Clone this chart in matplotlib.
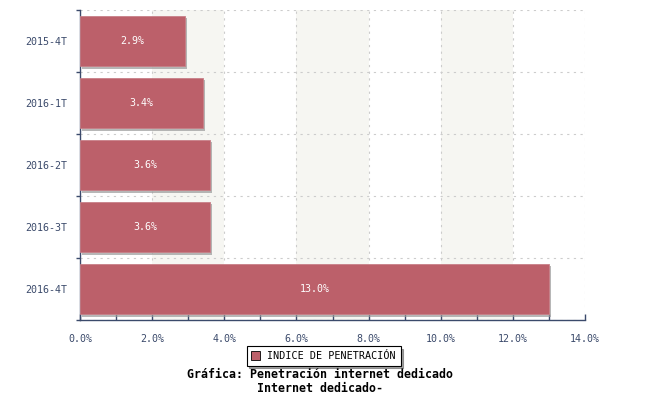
import matplotlib
matplotlib.use("Agg")
import matplotlib.pyplot as plt
import matplotlib.patheffects as pe
from matplotlib.ticker import FuncFormatter, MultipleLocator

# datos
periodos = ["2015-4T", "2016-1T", "2016-2T", "2016-3T", "2016-4T"]
penetracion = [2.9, 3.4, 3.6, 3.6, 13.0]
serie = "INDICE DE PENETRACIÓN"
titulo = ["Gráfica: Penetración internet dedicado", "Internet dedicado-"]

color_barra = "#BC606A"
color_eje = "#3B4A6B"
fuente = "DejaVu Sans Mono"

fig = plt.figure(figsize=(6.5, 4), dpi=100)
ax = fig.add_axes([80 / 650, 80 / 400, 505 / 650, 310 / 400])

# franjas alternas de fondo
for x0 in range(2, 14, 4):
    ax.axvspan(x0, x0 + 2, color="#F6F6F2", zorder=0, lw=0)

pos = list(range(len(periodos)))
barras = ax.barh(pos, penetracion, height=0.82, color=color_barra, zorder=3,
                 label=serie, edgecolor="#C88088", linewidth=0.6)
for b in barras:
    b.set_path_effects([pe.SimplePatchShadow(offset=(1.5, -1.5), shadow_rgbFace="#999999", alpha=0.7),
                        pe.Normal()])
    ax.text(b.get_width() / 2, b.get_y() + b.get_height() / 2, f"{b.get_width():.1f}%",
            ha="center", va="center", color="white", fontsize=7.2, family=fuente, zorder=4)

ax.set_xlim(0, 14)
ax.set_ylim(len(periodos) - 0.5, -0.5)

# eje x
ax.xaxis.set_major_locator(MultipleLocator(2))
ax.xaxis.set_minor_locator(MultipleLocator(1))
ax.xaxis.set_major_formatter(FuncFormatter(lambda v, p: f"{v:.1f}%"))
ax.tick_params(axis="x", which="both", direction="in", length=4, width=1, color=color_eje,
               labelcolor=color_eje, labelsize=7.2, pad=10)

# eje y: marcas en los limites, etiquetas al centro
ax.set_yticks([i - 0.5 for i in range(len(periodos) + 1)])
ax.set_yticklabels([])
ax.set_yticks(pos, minor=True)
ax.set_yticklabels(periodos, minor=True)
ax.tick_params(axis="y", which="major", direction="out", length=3, width=1, color=color_eje)
ax.tick_params(axis="y", which="minor", length=0, labelcolor=color_eje, labelsize=7.2, pad=9)
for lbl in ax.get_xticklabels() + ax.get_yticklabels(minor=True):
    lbl.set_family(fuente)

ax.grid(True, which="major", linestyle=(0, (2, 4)), color="#CCCCCC", linewidth=0.8, zorder=1)
ax.set_axisbelow(True)
for s in ["top", "right"]:
    ax.spines[s].set_visible(False)
for s in ["left", "bottom"]:
    ax.spines[s].set_color(color_eje)
    ax.spines[s].set_linewidth(1)

leg = fig.legend(loc="center", bbox_to_anchor=(0.498, 0.11), frameon=True, fancybox=False,
                 shadow=True, prop={"family": fuente, "size": 7.3}, handlelength=0.9,
                 handleheight=0.9, borderpad=0.45, handletextpad=0.7, borderaxespad=0)
leg.get_frame().set_edgecolor("black")
leg.get_frame().set_linewidth(0.8)
leg.legend_handles[0].set_edgecolor("black")
leg.legend_handles[0].set_path_effects([])

fig.text(0.493, 0.064, titulo[0], ha="center", va="center", fontsize=8.4, family=fuente,
         fontweight="bold")
fig.text(0.493, 0.03, titulo[1], ha="center", va="center", fontsize=8.4, family=fuente,
         fontweight="bold")

fig.savefig("out.png", dpi=100)
